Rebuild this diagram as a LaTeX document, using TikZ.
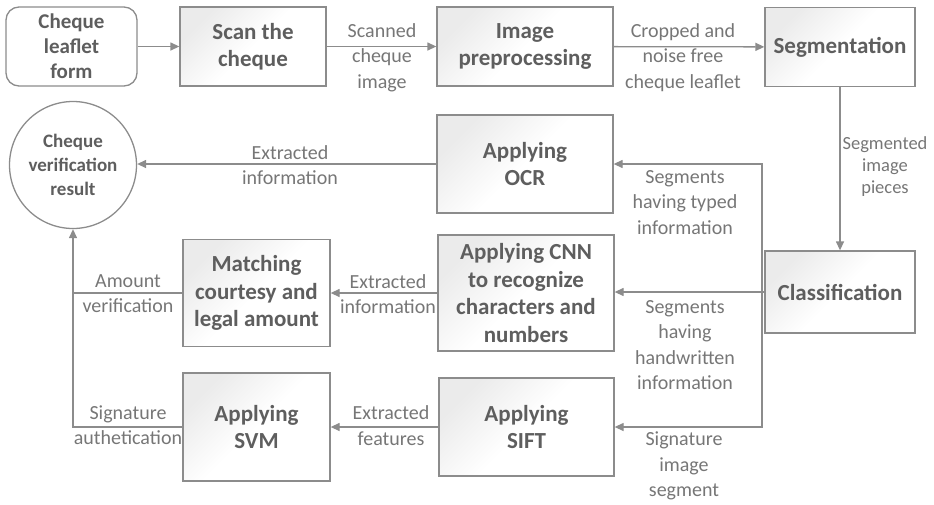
\documentclass[tikz,border=0pt]{standalone}
\usepackage{fontspec}
\setmainfont{Carlito}
\usetikzlibrary{arrows.meta,shapes.geometric}
\definecolor{edge}{HTML}{8C8C8C}
\definecolor{boxtext}{HTML}{5E5E5E}
\definecolor{labeltext}{HTML}{767676}
\tikzset{
  procbox/.style={draw=edge, line width=1.3pt, rectangle, align=center,
    text=boxtext, font=\fontsize{23}{27.5}\selectfont\bfseries,
    top color=black!8, bottom color=white, middle color=white, shading angle=45,
    inner sep=0pt},
  startbox/.style={draw=edge, line width=1.3pt, rectangle, rounded corners=13pt,
    align=center, fill=white, text=boxtext,
    font=\fontsize{21}{25}\selectfont\bfseries, inner sep=0pt},
  endcircle/.style={draw=edge, line width=1.3pt, circle, align=center, fill=white,
    text=boxtext, font=\fontsize{19}{24}\selectfont\bfseries, inner sep=0pt,
    minimum size=127pt},
  flowlabel/.style={align=center, text=labeltext,
    font=\fontsize{20}{25.3}\selectfont, inner sep=0pt},
  arr/.style={draw=edge, line width=1.3pt, -{Triangle[length=9pt,width=8pt]}},
  plainline/.style={draw=edge, line width=1.3pt}
}
\begin{document}
\begin{tikzpicture}[x=1pt,y=-1pt]
\useasboundingbox (0,0) rectangle (934,504);

% process steps
\node[startbox, minimum width=131pt, minimum height=79pt] (leaf) at (71.5,46.5) {Cheque\\leaflet\\form};
\node[procbox, minimum width=146pt, minimum height=79pt] (scan) at (253,46.5) {Scan the\\cheque};
\node[procbox, minimum width=176pt, minimum height=79pt] (prep) at (525,46.5) {Image\\preprocessing};
\node[procbox, minimum width=150pt, minimum height=79pt] (seg) at (840,47) {Segmentation};
\node[procbox, minimum width=150pt, minimum height=82pt] (class) at (840,292) {Classification};
\node[procbox, minimum width=176pt, minimum height=98pt] (ocr) at (525,164) {Applying\\OCR};
\node[procbox, minimum width=176pt, minimum height=116pt] (cnn) at (526,293) {Applying CNN\\to recognize\\characters and\\numbers};
\node[procbox, minimum width=175pt, minimum height=98pt] (sift) at (526.5,427) {Applying\\SIFT};
\node[procbox, minimum width=147pt, minimum height=107pt] (match) at (256.5,293) {Matching\\courtesy and\\legal amount};
\node[procbox, minimum width=147pt, minimum height=108pt] (svm) at (256.5,427) {Applying\\SVM};
\node[endcircle] (res) at (73,165) {Cheque\\verification\\result};

% junction of the three classification outputs
\coordinate (jn) at (762,292);

% connectors
\draw[arr] (leaf) -- (scan);
\draw[arr] (scan) -- (prep);
\draw[arr] (prep) -- (seg);
\draw[arr] (seg) -- (class);
\draw[arr] (class.west) -- (cnn.east |- class.west);
\draw[arr] (jn) |- (ocr.east);
\draw[arr] (jn) |- (sift.east);
\draw[arr] (ocr.west) -- (res.east |- ocr.west);
\draw[arr] (cnn.west) -- (match.east |- cnn.west);
\draw[arr] (sift.west) -- (svm.east |- sift.west);
\draw[plainline] (match.west) -- (match.west -| res.south);
\draw[arr] (svm.west) -| (res.south);

% connector labels
\node[flowlabel] (lscan) at (382,57.5) {Scanned\\cheque\\image};
\node[flowlabel] (lprep) at (683,57.5) {Cropped and\\noise free\\cheque leaflet};
\node[flowlabel, font=\fontsize{18.5}{22}\selectfont] (lseg) at (885,167) {Segmented\\image\\pieces};
\node[flowlabel] (locr) at (290,165) {Extracted\\information};
\node[flowlabel] (ltyped) at (685,202.5) {Segments\\having typed\\information};
\node[flowlabel] (lhand) at (685,345) {Segments\\having\\handwritten\\information};
\node[flowlabel] (lsig) at (684,466) {Signature\\image\\segment};
\node[flowlabel] (lcnn) at (388,294) {Extracted\\information};
\node[flowlabel] (lamt) at (128,294) {Amount\\verification};
\node[flowlabel] (lfeat) at (391,425.5) {Extracted\\features};
\node[flowlabel] (lauth) at (128,425.5) {Signature\\authetication};
\end{tikzpicture}
\end{document}
